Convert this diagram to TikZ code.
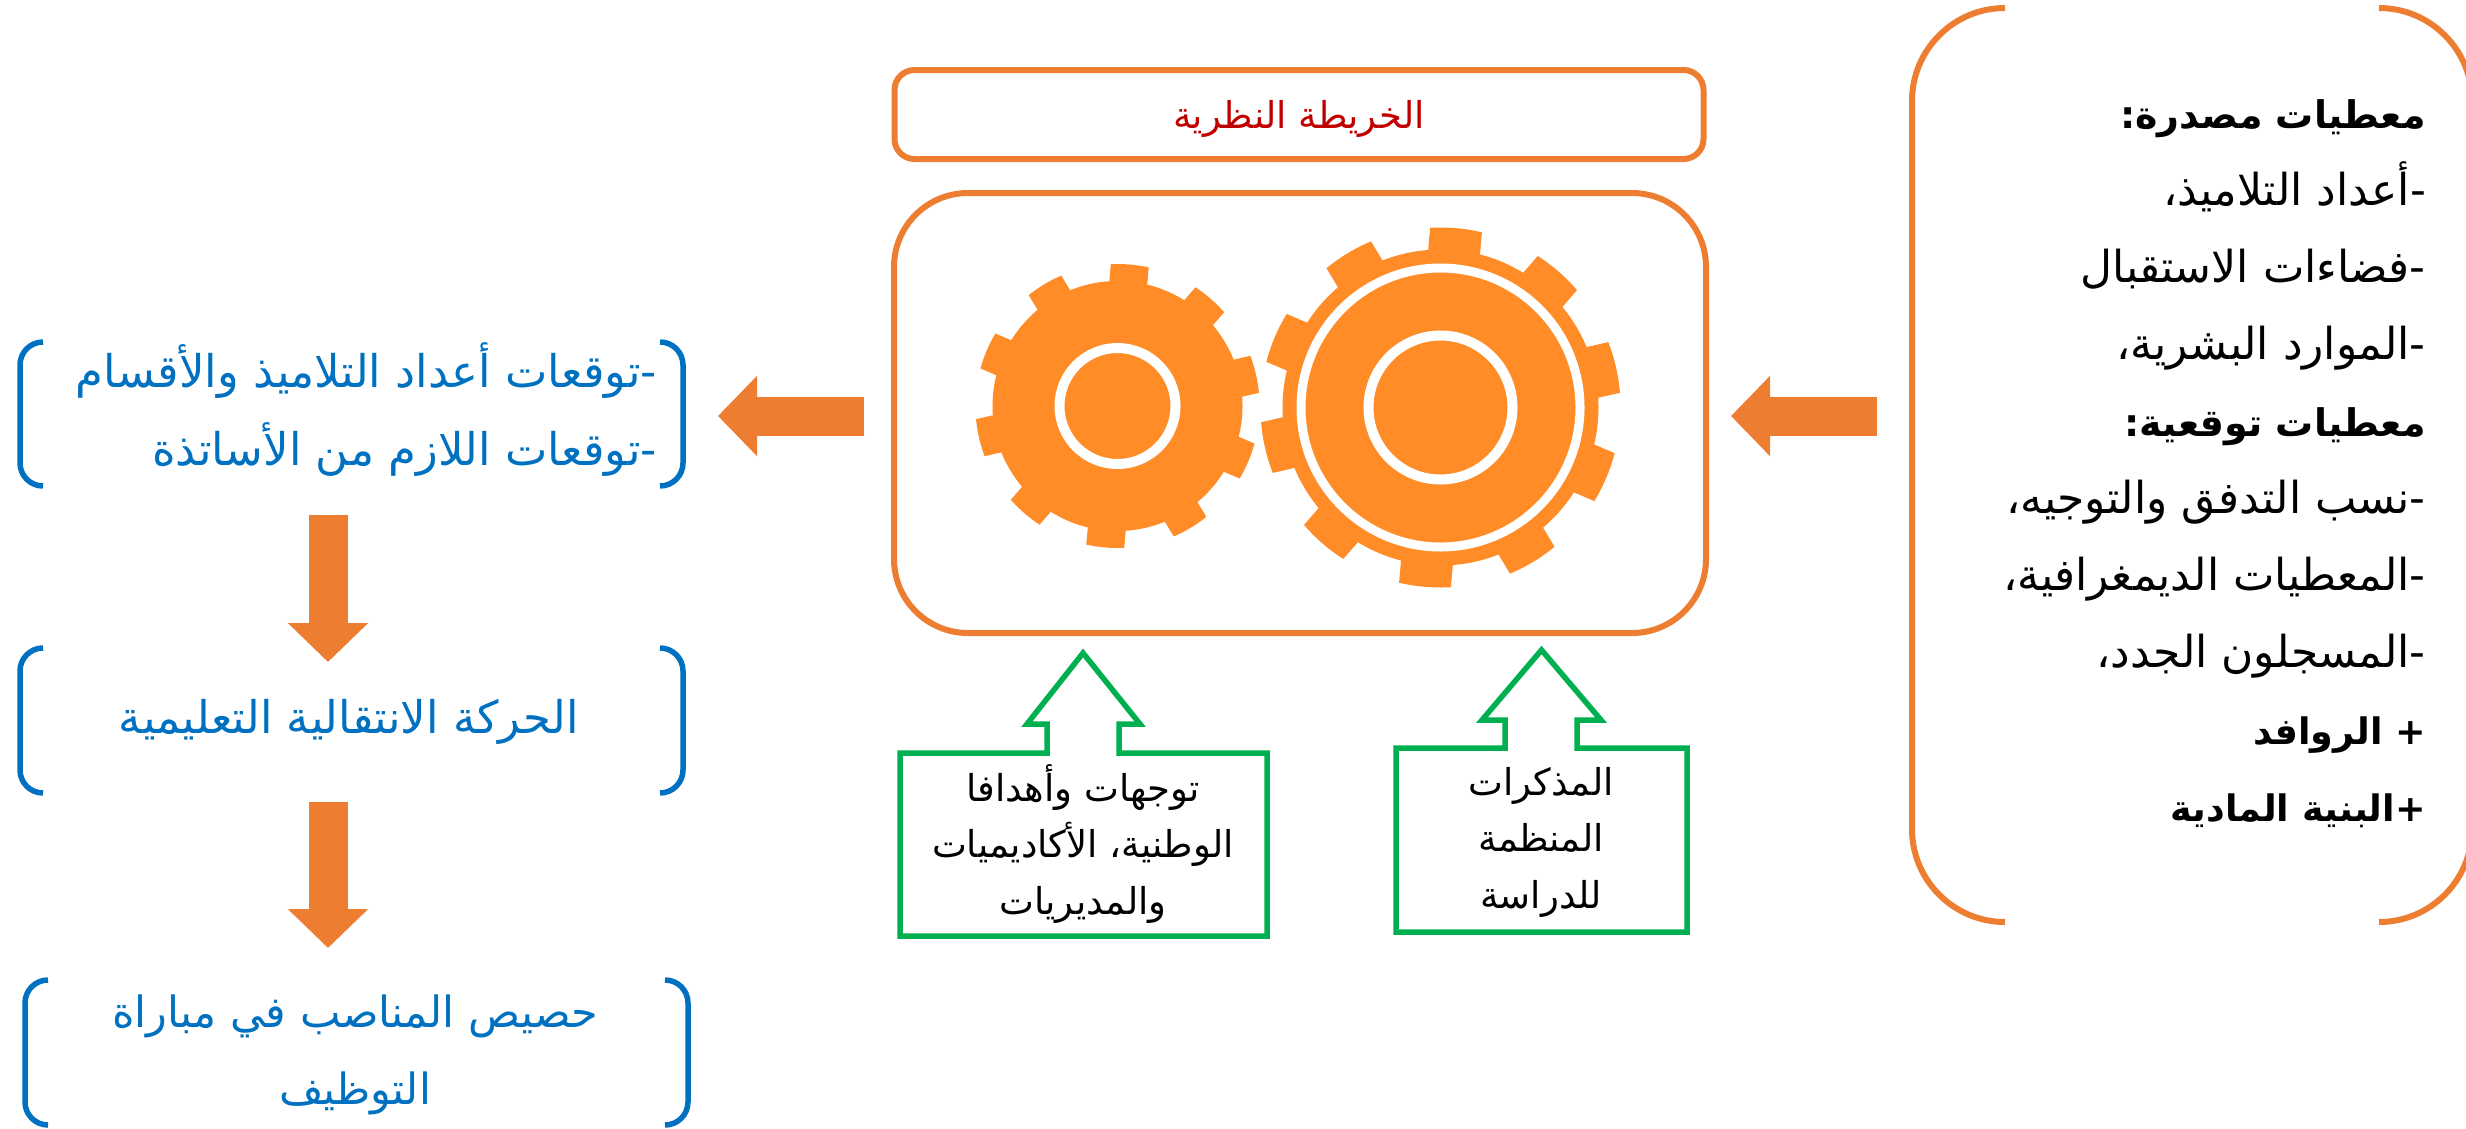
\documentclass[tikz,border=0pt]{standalone}
\usepackage{fontspec}
\usetikzlibrary{arrows.meta}
\newfontfamily\arabicfont[Script=Arabic]{DejaVu Sans}
\TeXXeTstate=1
\newcommand{\rl}[1]{\beginR #1\endR}
\newcommand{\boldsized}[1]{\bfseries\fontsize{#1}{77}\selectfont}
\definecolor{lineorange}{HTML}{ED7D31}
\definecolor{gearorange}{HTML}{FF8C26}
\definecolor{boxgreen}{HTML}{00B050}
\definecolor{textblue}{HTML}{0070C0}
\definecolor{titlered}{HTML}{C00000}
\tikzset{
	orangebox/.style={draw=lineorange, line width=6pt, inner sep=0pt},
	bluebracket/.style={draw=textblue, line width=5.5pt, rounded corners=23pt},
	greenarrow/.style={draw=boxgreen, line width=5.5pt, miter limit=10},
	bluetext/.style={text=textblue, inner sep=0pt, font=\arabicfont\fontsize{45}{78}\selectfont},
	blacktext/.style={text=black, inner sep=0pt, font=\arabicfont\fontsize{37}{56.5}\selectfont},
	datatext/.style={text=black, inner sep=0pt, align=right, anchor=north east, font=\arabicfont\fontsize{44}{77}\selectfont},
	blockarrow/.style={draw=lineorange, line width=39pt, -{Triangle[length=39pt,width=78pt]}},
}
\begin{document}
\begin{tikzpicture}[x=1pt, y=-1pt]
	\useasboundingbox (0,0) rectangle (2466,1128);
	% boxes in the middle
	\node[orangebox, rounded corners=20pt, minimum width=809pt, minimum height=89pt] (titlebox) at (1299,114.5) {};
	\node[text=titlered, inner sep=0pt, font=\arabicfont\fontsize{37}{40}\selectfont] (title) at (1299,119) {\rl{الخريطة النظرية}};
	\node[orangebox, rounded corners=74pt, minimum width=812pt, minimum height=440pt] (mainbox) at (1300,413) {};
	% gears
	\foreach \cx/\cy/\rbody/\rtip/\wtooth in {1117.5/406/125/142/19, 1440.5/407.5/158/180/26} {
		\fill[gearorange] (\cx,\cy) circle (\rbody pt);
		\begin{scope}
			\clip (\cx,\cy) circle (\rtip pt);
			\foreach \ang in {85,49,13,-23,-59,-95,-131,-167,-203,-239}
				\fill[gearorange, shift={(\cx,\cy)}, rotate=\ang] (\rbody-6,-\wtooth) -- (\rtip+6,-\wtooth) -- (\rtip+6,\wtooth) -- (\rbody-6,\wtooth) -- cycle;
		\end{scope}
	}
	\draw[white, line width=10pt] (1117.5,406) circle (58pt);
	\draw[white, line width=9pt] (1440.5,407.5) circle (139.5pt);
	\draw[white, line width=10pt] (1440.5,407.5) circle (72pt);
	% green boxes
	\draw[greenarrow] (900,753) -- (1047,753) -- (1047,724) -- (1027,724) -- (1083,653) -- (1140,724)
		-- (1119,724) -- (1119,753) -- (1267,753) -- (1267,936) -- (900,936) -- cycle;
	\draw[greenarrow] (1396,748) -- (1505,748) -- (1505,720) -- (1482,720) -- (1541.5,650) -- (1601,720)
		-- (1577,720) -- (1577,748) -- (1687,748) -- (1687,932) -- (1396,932) -- cycle;
	\node[blacktext, align=center] (orient) at (1083,844) {\rl{توجهات وأهدافا}\\\rl{الوطنية، الأكاديميات}\\\rl{والمديريات}};
	\node[blacktext, align=center] (memos) at (1541,842) {\rl{المذكرات}\\\rl{المنظمة}\\\rl{للدراسة}};
	% right bracket with its list
	\draw[draw=lineorange, line width=6pt, rounded corners=93pt] (2005,8) -- (1912,8) -- (1912,922) -- (2005,922);
	\draw[draw=lineorange, line width=6pt, rounded corners=93pt] (2379,8) -- (2472,8) -- (2472,922) -- (2379,922);
	\node[datatext] (givens) at (2426,99) {{\boldsized{38}\rl{معطيات مصدرة:}}\\\rl{-أعداد التلاميذ،}\\\rl{-فضاءات الاستقبال}\\\rl{-الموارد البشرية،}\\{\boldsized{38}\rl{معطيات توقعية:}}\\\rl{-نسب التدفق والتوجيه،}\\\rl{-المعطيات الديمغرافية،}\\\rl{-المسجلون الجدد،}\\{\boldsized{36.5}\rl{+ الروافد}}\\{\boldsized{36.5}\rl{+البنية المادية}}};
	% left brackets
	\draw[bluebracket] (43,342) -- (20,342) -- (20,486) -- (43,486);
	\draw[bluebracket] (660,342) -- (683,342) -- (683,486) -- (660,486);
	\draw[bluebracket] (43,648) -- (20,648) -- (20,793) -- (43,793);
	\draw[bluebracket] (660,648) -- (683,648) -- (683,793) -- (660,793);
	\draw[bluebracket] (48,980) -- (25,980) -- (25,1125) -- (48,1125);
	\draw[bluebracket] (665,980) -- (688,980) -- (688,1125) -- (665,1125);
	\node[bluetext, align=right, anchor=east] (expect) at (657,410) {\rl{-توقعات أعداد التلاميذ والأقسام}\\\rl{-توقعات اللازم من الأساتذة}};
	\node[bluetext] (move) at (349,722) {\rl{الحركة الانتقالية التعليمية}};
	\node[bluetext, align=center, font=\arabicfont\fontsize{43}{77}\selectfont] (posts) at (355,1055) {\rl{حصيص المناصب في مباراة}\\\rl{التوظيف}};
	% block arrows
	\coordinate (r0) at (1877,416);
	\coordinate (r1) at (1731,416);
	\coordinate (l0) at (864,416);
	\coordinate (l1) at (718,416);
	\coordinate (d0) at (328,515);
	\coordinate (d1) at (328,662);
	\coordinate (e0) at (328,802);
	\coordinate (e1) at (328,948);
	\draw[blockarrow] (r0) -- (r1);
	\draw[blockarrow] (l0) -- (l1);
	\draw[blockarrow] (d0) -- (d1);
	\draw[blockarrow] (e0) -- (e1);
\end{tikzpicture}
\end{document}
